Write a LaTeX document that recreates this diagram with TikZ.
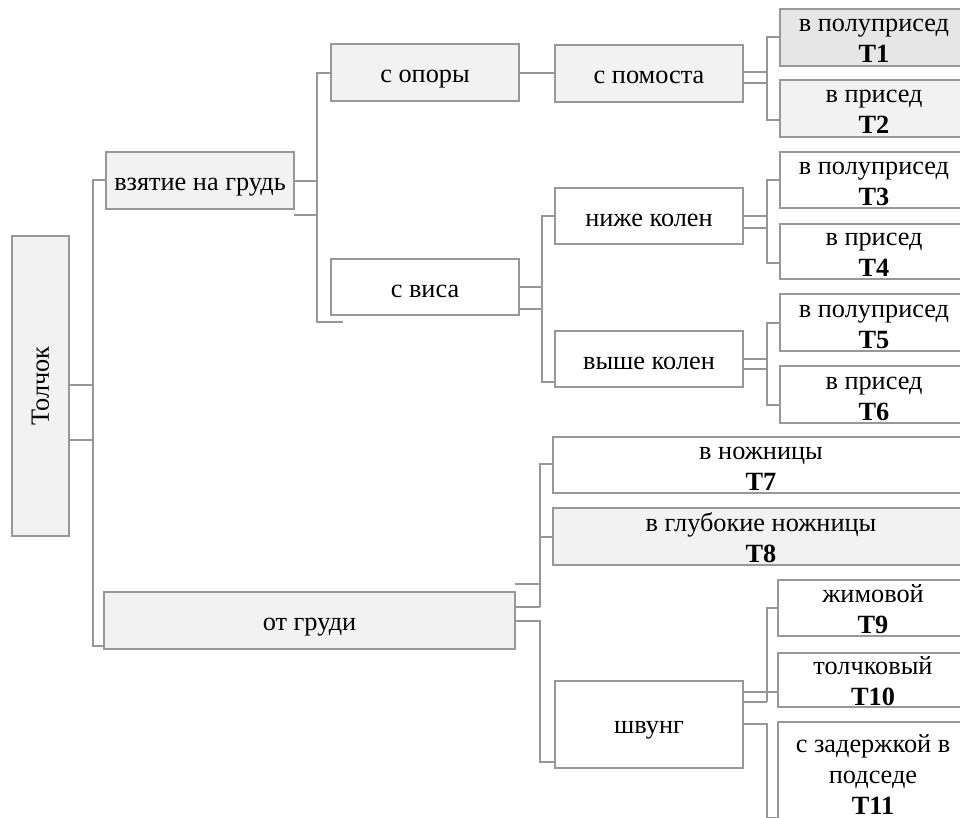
\documentclass[tikz,border=0pt]{standalone}
\usepackage{fontspec}
\setmainfont{Liberation Serif}
\newcommand\fsz{\fontsize{26.3}{31}\selectfont}
% two- and three-line box texts, first baseline is the node's base
\newcommand\twol[2]{\begin{tabular}[t]{@{}c@{}}#1\\\textbf{#2}\end{tabular}}
\newcommand\threel[3]{\begin{tabular}[t]{@{}c@{}}#1\\#2\\\textbf{#3}\end{tabular}}
\definecolor{boxline}{RGB}{152,152,152}
\definecolor{wireline}{RGB}{150,150,150}
\definecolor{shadeA}{RGB}{242,242,242}
\definecolor{shadeB}{RGB}{230,230,230}
\begin{document}
\begin{tikzpicture}[x=1pt,y=-1pt,
  boxbase/.style={draw=boxline, line width=2.8pt, inner sep=0pt, outer sep=0pt,
    font=\fsz, fill=white},
  onel/.style={boxbase, text height=20pt, text depth=0pt},
  twoline/.style={boxbase, text height=0pt, text depth=11pt},
  threeline/.style={boxbase, text height=0pt, text depth=60pt},
  grey/.style={fill=shadeA},
  darkgrey/.style={fill=shadeB},
  corners/.style n args={4}{minimum width={#3-#1}, minimum height={#4-#2},
    at={({(#1+#3)/2},{(#2+#4)/2})}},
  wire/.style={draw=wireline, line width=2.5pt, line join=miter}]
\useasboundingbox (0,0) rectangle (960,818);
\clip (0,0) rectangle (960,818);

% ---- boxes ----
\node[boxbase, grey, corners={12}{236}{69}{536}] (tolchok) {\rotatebox{90}{Толчок}};

\node[onel, grey, corners={106}{152}{294}{209}] (vzyatie) {взятие на грудь};
\node[onel, grey, corners={104}{592}{515}{649}] (otgrudi) {от груди};

\node[onel, grey, corners={331}{44}{519}{101}] (sopory) {с опоры};
\node[onel, corners={331}{259}{519}{315}] (svisa) {с виса};

\node[onel, grey, corners={555}{45}{743}{102}] (spomosta) {с помоста};
\node[onel, corners={555}{188}{743}{244}] (nizhe) {ниже колен};
\node[onel, corners={555}{331}{743}{387}] (vyshe) {выше колен};
\node[boxbase, text height=18pt, text depth=0pt, corners={555}{681}{743}{768}] (shvung) {швунг};

\node[twoline, darkgrey, corners={780}{9}{968}{66}] (t1) {\twol{в полуприсед}{Т1}};
\node[twoline, grey, corners={780}{80}{968}{137}] (t2) {\twol{в присед}{Т2}};
\node[twoline, corners={780}{152}{968}{208}] (t3) {\twol{в полуприсед}{Т3}};
\node[twoline, corners={780}{224}{968}{279}] (t4) {\twol{в присед}{Т4}};
\node[twoline, corners={780}{294}{968}{351}] (t5) {\twol{в полуприсед}{Т5}};
\node[twoline, corners={780}{366}{968}{423}] (t6) {\twol{в присед}{Т6}};

\node[twoline, corners={553}{437}{969}{493}] (t7) {\twol{в ножницы}{Т7}};
\node[twoline, grey, corners={553}{508}{969}{565}] (t8) {\twol{в глубокие ножницы}{Т8}};

\node[twoline, corners={778}{580}{968}{636}] (t9) {\twol{жимовой}{Т9}};
\node[twoline, corners={778}{653}{968}{707}] (t10) {\twol{толчковый}{Т10}};
\node[threeline, corners={778}{722}{968}{842}] (t11) {\threel{с задержкой в}{подседе}{Т11}};

% ---- connectors ----
% Толчок
\draw[wire] (tolchok.east |- 0,385) -- (93,385);
\draw[wire] (tolchok.east |- 0,440) -- (93,440);
\draw[wire] (vzyatie.west |- 0,180) -| (93,646) -- (otgrudi.west |- 0,646);

% взятие на грудь
\coordinate (svisatail) at (343,322);
\draw[wire] (vzyatie.east |- 0,181) -- (317,181);
\draw[wire] (vzyatie.east |- 0,215) -- (317,215);
\draw[wire] (sopory.west |- 0,73) -| (317,322) -- (svisatail);

% с опоры
\draw[wire] (sopory.east |- 0,73) -- (spomosta.west |- 0,73);

% с виса
\draw[wire] (svisa.east |- 0,287) -- (542,287);
\draw[wire] (svisa.east |- 0,309) -- (542,309);
\draw[wire] (nizhe.west |- 0,216) -| (542,382) -- (vyshe.west |- 0,382);

% с помоста
\draw[wire] (spomosta.east |- 0,72) -- (767,72);
\draw[wire] (spomosta.east |- 0,83) -- (767,83);
\draw[wire] (t1.west |- 0,37) -| (767,120) -- (t2.west |- 0,120);

% ниже колен
\draw[wire] (nizhe.east |- 0,216) -- (767,216);
\draw[wire] (nizhe.east |- 0,228) -- (767,228);
\draw[wire] (t3.west |- 0,180) -| (767,263) -- (t4.west |- 0,263);

% выше колен
\draw[wire] (vyshe.east |- 0,359) -- (767,359);
\draw[wire] (vyshe.east |- 0,369) -- (767,369);
\draw[wire] (t5.west |- 0,323) -| (767,405) -- (t6.west |- 0,405);

% от груди
\draw[wire] (otgrudi.east |- 0,584) -- (540,584);
\draw[wire] (otgrudi.east |- 0,607) -- (540,607);
\draw[wire] (t7.west |- 0,464) -| (540,607);
\draw[wire] (t8.west |- 0,537) -- (540,537);
\draw[wire] (otgrudi.east |- 0,621) -| (540,762) -- (shvung.west |- 0,762);

% швунг
\draw[wire] (shvung.east |- 0,692) -- (t10.west |- 0,692);
\draw[wire] (shvung.east |- 0,702) -- (767,702);
\draw[wire] (t9.west |- 0,608) -| (767,702);
\draw[wire] (shvung.east |- 0,724) -| (767,818) -- (t11.west |- 0,818);
\end{tikzpicture}
\end{document}
